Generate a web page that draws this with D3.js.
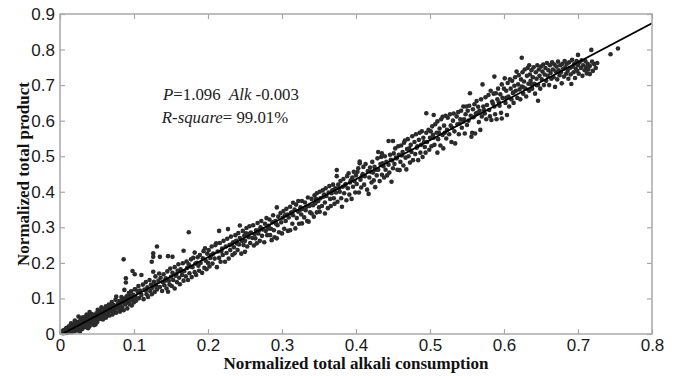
<!DOCTYPE html>
<html><head><meta charset="utf-8">
<script src="https://cdn.jsdelivr.net/npm/d3@7"></script>
<style>body{margin:0;background:#fff}svg{display:block}</style>
</head><body><svg id="c" width="676" height="376"></svg>
<script>
const xTicks = [0,0.1,0.2,0.3,0.4,0.5,0.6,0.7,0.8];
const yTicks = [0,0.1,0.2,0.3,0.4,0.5,0.6,0.7,0.8,0.9];
const fitSlope = 1.096, fitIntercept = -0.003;
const fitLine = [[0, fitSlope*0+fitIntercept],[0.8, fitSlope*0.8+fitIntercept]];
const xLabel = "Normalized total alkali consumption";
const yLabel = "Normalized total product";
const points = [
[0.002,0.004],[0.003,0.008],[0.004,0.002],[0.005,0.010],[0.005,0.006],[0.006,0.003],[0.007,0.012],[0.007,0.007],[0.008,0.004],[0.008,0.015],[0.009,0.009],[0.010,0.006],[0.010,0.013],[0.011,0.018],[0.011,0.010],[0.012,0.005],[0.012,0.014],[0.013,0.020],[0.013,0.009],[0.014,0.012],[0.014,0.016],[0.015,0.008],[0.015,0.022],[0.016,0.014],[0.016,0.018],[0.017,0.011],[0.017,0.024],[0.018,0.016],[0.018,0.020],[0.019,0.012],[0.019,0.026],[0.020,0.018],[0.020,0.014],[0.021,0.022],[0.021,0.030],[0.022,0.017],[0.022,0.013],[0.023,0.025],[0.023,0.020],[0.024,0.016],[0.024,0.029],[0.025,0.022],[0.025,0.034],[0.026,0.019],[0.026,0.026],[0.027,0.015],[0.027,0.031],[0.028,0.024],[0.028,0.020],[0.029,0.027],[0.029,0.036],[0.030,0.021],[0.030,0.030],[0.031,0.018],[0.031,0.026],[0.032,0.033],[0.032,0.023],[0.033,0.029],[0.033,0.040],[0.034,0.021],[0.034,0.034],[0.035,0.027],[0.035,0.031],[0.036,0.024],[0.036,0.038],[0.037,0.030],[0.037,0.045],[0.038,0.026],[0.038,0.035],[0.039,0.032],[0.039,0.041],[0.040,0.028],[0.040,0.037],[0.041,0.034],[0.041,0.048],[0.042,0.030],[0.042,0.040],[0.043,0.036],[0.043,0.044],[0.044,0.032],[0.044,0.050],[0.045,0.039],[0.045,0.043],[0.046,0.035],[0.046,0.047],[0.047,0.041],[0.047,0.038],[0.048,0.052],[0.048,0.044],[0.049,0.036],[0.049,0.047],[0.050,0.042],[0.050,0.055],
[0.030,0.046],[0.025,0.049],[0.040,0.062],[0.036,0.055],[0.020,0.038],[0.015,0.030],[0.020,0.008],[0.030,0.014],[0.040,0.022],[0.045,0.030],[0.050,0.033],[0.035,0.019],[0.012,0.022],[0.018,0.028],[0.028,0.040],[0.033,0.048],[0.043,0.056],[0.009,0.017],[0.016,0.005],[0.024,0.010],[0.038,0.016],[0.046,0.025],[0.032,0.041],[0.022,0.033],[0.027,0.007],[0.042,0.053],[0.048,0.027],
[0.004,0.009],[0.006,0.011],[0.009,0.003],[0.011,0.014],[0.013,0.015],[0.015,0.012],[0.017,0.019],[0.019,0.017],[0.021,0.015],[0.023,0.030],[0.024,0.023],[0.026,0.031],[0.028,0.032],[0.029,0.018],[0.031,0.037],[0.032,0.028],[0.034,0.042],[0.036,0.031],[0.037,0.026],[0.039,0.050],[0.041,0.040],[0.042,0.046],[0.044,0.041],[0.046,0.052],[0.047,0.031],[0.049,0.058],[0.051,0.046],[0.053,0.065],[0.055,0.043],[0.058,0.058],[0.060,0.070],[0.064,0.052],[0.067,0.076],[0.069,0.068],[0.072,0.082],[0.075,0.062],[0.079,0.086],[0.082,0.070],[0.085,0.100],[0.090,0.088],[0.094,0.108],[0.097,0.100],
[0.051,0.068],[0.052,0.041],[0.054,0.060],[0.054,0.049],[0.056,0.075],[0.057,0.052],[0.058,0.041],[0.059,0.066],[0.061,0.057],[0.062,0.078],[0.062,0.046],[0.064,0.069],[0.065,0.060],[0.066,0.083],[0.067,0.052],[0.068,0.071],[0.070,0.064],[0.070,0.090],[0.071,0.055],[0.073,0.079],[0.074,0.068],[0.075,0.096],[0.076,0.060],[0.076,0.105],[0.078,0.084],[0.079,0.072],[0.080,0.093],[0.081,0.063],[0.082,0.085],[0.083,0.104],[0.084,0.075],[0.085,0.090],[0.086,0.210],[0.086,0.067],[0.087,0.124],[0.087,0.098],[0.088,0.083],[0.089,0.157],[0.089,0.145],[0.090,0.106],[0.091,0.072],[0.092,0.094],[0.093,0.115],[0.094,0.084],[0.095,0.103],[0.096,0.120],[0.097,0.080],[0.098,0.177],[0.098,0.098],[0.099,0.110],[0.100,0.089],[0.101,0.168],[0.101,0.126],[0.102,0.104],
[0.053,0.055],[0.057,0.063],[0.060,0.050],[0.063,0.065],[0.066,0.070],[0.069,0.078],[0.072,0.068],[0.077,0.079],[0.080,0.082],[0.084,0.092],[0.088,0.095],[0.092,0.102],[0.096,0.095],
[0.102,0.126],[0.103,0.094],[0.105,0.118],[0.106,0.135],[0.107,0.101],[0.108,0.122],[0.110,0.166],[0.110,0.110],[0.112,0.139],[0.113,0.098],[0.114,0.125],[0.116,0.146],[0.117,0.112],[0.118,0.131],[0.119,0.104],[0.121,0.152],[0.122,0.121],[0.123,0.139],[0.124,0.203],[0.124,0.112],[0.125,0.130],[0.126,0.227],[0.126,0.217],[0.126,0.175],[0.127,0.147],[0.128,0.118],[0.129,0.162],[0.130,0.136],[0.131,0.246],[0.131,0.125],[0.133,0.150],[0.134,0.170],[0.135,0.217],[0.135,0.132],[0.136,0.158],[0.138,0.121],[0.139,0.146],[0.140,0.168],[0.141,0.137],[0.143,0.157],[0.144,0.128],[0.145,0.176],[0.146,0.219],[0.146,0.119],[0.147,0.150],[0.148,0.139],[0.149,0.184],[0.150,0.161],
[0.151,0.135],[0.152,0.217],[0.152,0.172],[0.153,0.152],[0.155,0.128],[0.155,0.188],[0.156,0.164],[0.158,0.146],[0.159,0.178],[0.160,0.196],[0.161,0.158],[0.162,0.140],[0.163,0.182],[0.165,0.166],[0.166,0.199],[0.167,0.234],[0.167,0.150],[0.168,0.177],[0.170,0.162],[0.171,0.204],[0.172,0.186],[0.173,0.152],[0.174,0.286],[0.174,0.196],[0.175,0.171],[0.177,0.210],[0.178,0.160],[0.179,0.188],[0.180,0.214],[0.182,0.229],[0.182,0.174],[0.183,0.198],[0.184,0.166],[0.186,0.216],[0.187,0.192],[0.188,0.178],[0.189,0.222],[0.190,0.200],[0.192,0.172],[0.193,0.213],[0.194,0.233],[0.195,0.186],[0.196,0.241],[0.197,0.206],[0.198,0.182],[0.199,0.226],[0.200,0.200],
[0.201,0.236],[0.202,0.190],[0.204,0.221],[0.205,0.246],[0.206,0.198],[0.207,0.226],[0.209,0.212],[0.210,0.250],[0.211,0.255],[0.212,0.188],[0.213,0.232],[0.215,0.290],[0.215,0.214],[0.216,0.256],[0.217,0.203],[0.219,0.240],[0.220,0.222],[0.221,0.262],[0.223,0.203],[0.224,0.246],[0.225,0.228],[0.226,0.268],[0.227,0.295],[0.228,0.212],[0.229,0.250],[0.230,0.236],[0.231,0.274],[0.233,0.222],[0.234,0.258],[0.235,0.244],[0.236,0.227],[0.237,0.278],[0.238,0.262],[0.240,0.236],[0.241,0.284],[0.242,0.252],[0.243,0.305],[0.243,0.270],[0.245,0.226],[0.246,0.262],[0.247,0.290],[0.248,0.250],[0.249,0.276],[0.250,0.231],[0.250,0.262],
[0.251,0.283],[0.252,0.298],[0.253,0.246],[0.255,0.272],[0.256,0.303],[0.257,0.256],[0.258,0.285],[0.260,0.270],[0.261,0.306],[0.262,0.249],[0.264,0.269],[0.265,0.292],[0.266,0.255],[0.267,0.312],[0.268,0.283],[0.270,0.262],[0.271,0.300],[0.272,0.318],[0.273,0.276],[0.274,0.294],[0.276,0.258],[0.277,0.310],[0.278,0.290],[0.279,0.326],[0.280,0.278],[0.282,0.304],[0.283,0.322],[0.284,0.278],[0.285,0.296],[0.286,0.264],[0.287,0.314],[0.288,0.334],[0.289,0.292],[0.290,0.272],[0.291,0.318],[0.293,0.356],[0.293,0.269],[0.294,0.306],[0.295,0.330],[0.296,0.286],[0.298,0.340],[0.299,0.314],[0.300,0.283],
[0.301,0.327],[0.302,0.346],[0.303,0.296],[0.305,0.318],[0.306,0.352],[0.307,0.336],[0.308,0.290],[0.309,0.328],[0.311,0.292],[0.311,0.358],[0.312,0.340],[0.314,0.310],[0.315,0.369],[0.315,0.334],[0.317,0.350],[0.318,0.297],[0.319,0.364],[0.320,0.326],[0.322,0.374],[0.322,0.344],[0.323,0.310],[0.325,0.356],[0.326,0.336],[0.327,0.374],[0.327,0.311],[0.328,0.352],[0.330,0.328],[0.331,0.370],[0.332,0.348],[0.334,0.318],[0.335,0.384],[0.336,0.316],[0.337,0.360],[0.338,0.342],[0.340,0.339],[0.340,0.380],[0.342,0.362],[0.343,0.330],[0.344,0.390],[0.345,0.368],[0.347,0.396],[0.347,0.342],[0.349,0.374],[0.350,0.356],
[0.351,0.344],[0.351,0.400],[0.352,0.382],[0.354,0.360],[0.355,0.404],[0.356,0.386],[0.358,0.339],[0.358,0.370],[0.359,0.410],[0.360,0.388],[0.362,0.354],[0.363,0.398],[0.364,0.416],[0.365,0.380],[0.366,0.360],[0.368,0.404],[0.369,0.420],[0.370,0.382],[0.371,0.366],[0.372,0.410],[0.373,0.398],[0.374,0.461],[0.374,0.444],[0.375,0.372],[0.376,0.420],[0.378,0.400],[0.379,0.430],[0.380,0.382],[0.381,0.358],[0.382,0.414],[0.383,0.436],[0.384,0.396],[0.386,0.422],[0.387,0.376],[0.388,0.444],[0.389,0.410],[0.390,0.452],[0.391,0.392],[0.392,0.426],[0.394,0.380],[0.395,0.440],[0.396,0.414],[0.397,0.456],[0.398,0.430],[0.399,0.398],[0.400,0.446],
[0.401,0.422],[0.402,0.456],[0.403,0.466],[0.404,0.398],[0.405,0.480],[0.405,0.485],[0.406,0.434],[0.407,0.412],[0.409,0.450],[0.410,0.470],[0.411,0.420],[0.412,0.444],[0.413,0.478],[0.415,0.406],[0.416,0.458],[0.417,0.394],[0.418,0.440],[0.419,0.468],[0.421,0.426],[0.422,0.484],[0.423,0.454],[0.424,0.432],[0.425,0.470],[0.426,0.413],[0.428,0.446],[0.429,0.494],[0.430,0.512],[0.430,0.462],[0.432,0.430],[0.433,0.478],[0.434,0.498],[0.435,0.508],[0.435,0.448],[0.437,0.472],[0.438,0.440],[0.439,0.500],[0.440,0.462],[0.441,0.484],[0.442,0.446],[0.444,0.543],[0.444,0.476],[0.445,0.454],[0.446,0.504],[0.448,0.428],[0.449,0.488],[0.450,0.543],[0.450,0.466],
[0.451,0.508],[0.452,0.478],[0.453,0.522],[0.455,0.494],[0.456,0.462],[0.457,0.528],[0.458,0.504],[0.459,0.461],[0.460,0.484],[0.461,0.530],[0.463,0.512],[0.464,0.474],[0.465,0.538],[0.466,0.544],[0.467,0.496],[0.468,0.463],[0.469,0.520],[0.470,0.548],[0.471,0.500],[0.473,0.482],[0.474,0.532],[0.475,0.512],[0.476,0.556],[0.477,0.489],[0.479,0.540],[0.480,0.506],[0.481,0.562],[0.482,0.524],[0.484,0.489],[0.485,0.546],[0.486,0.566],[0.487,0.510],[0.488,0.532],[0.489,0.570],[0.490,0.498],[0.491,0.552],[0.493,0.526],[0.494,0.510],[0.495,0.621],[0.495,0.566],[0.496,0.540],[0.498,0.574],[0.499,0.518],[0.500,0.552],
[0.501,0.570],[0.502,0.528],[0.503,0.584],[0.505,0.616],[0.505,0.552],[0.506,0.532],[0.507,0.590],[0.509,0.566],[0.510,0.510],[0.510,0.598],[0.511,0.548],[0.513,0.578],[0.514,0.530],[0.515,0.604],[0.517,0.611],[0.517,0.560],[0.518,0.522],[0.519,0.586],[0.521,0.614],[0.522,0.550],[0.523,0.574],[0.524,0.608],[0.526,0.562],[0.527,0.618],[0.528,0.586],[0.529,0.540],[0.531,0.600],[0.532,0.620],[0.533,0.570],[0.534,0.536],[0.536,0.612],[0.537,0.590],[0.538,0.624],[0.539,0.562],[0.541,0.604],[0.542,0.628],[0.543,0.580],[0.545,0.640],[0.545,0.598],[0.547,0.564],[0.548,0.618],[0.549,0.640],[0.550,0.588],
[0.551,0.628],[0.552,0.600],[0.553,0.642],[0.554,0.677],[0.555,0.614],[0.556,0.555],[0.557,0.566],[0.558,0.632],[0.559,0.610],[0.560,0.646],[0.561,0.564],[0.562,0.620],[0.563,0.655],[0.565,0.639],[0.566,0.596],[0.567,0.628],[0.568,0.574],[0.569,0.660],[0.570,0.612],[0.571,0.702],[0.572,0.640],[0.574,0.620],[0.575,0.666],[0.576,0.604],[0.577,0.644],[0.579,0.672],[0.580,0.630],[0.581,0.612],[0.582,0.684],[0.583,0.602],[0.584,0.654],[0.586,0.676],[0.587,0.724],[0.587,0.640],[0.588,0.618],[0.589,0.677],[0.590,0.604],[0.591,0.660],[0.592,0.690],[0.594,0.642],[0.595,0.674],[0.596,0.622],[0.597,0.702],[0.597,0.606],[0.598,0.664],[0.600,0.690],
[0.601,0.719],[0.602,0.650],[0.603,0.684],[0.604,0.616],[0.605,0.706],[0.606,0.668],[0.607,0.640],[0.608,0.716],[0.609,0.690],[0.610,0.660],[0.611,0.712],[0.612,0.678],[0.613,0.650],[0.614,0.698],[0.615,0.722],[0.616,0.684],[0.617,0.738],[0.618,0.664],[0.619,0.702],[0.620,0.728],[0.621,0.688],[0.622,0.660],[0.623,0.716],[0.624,0.777],[0.624,0.696],[0.625,0.736],[0.626,0.676],[0.627,0.710],[0.628,0.744],[0.629,0.690],[0.630,0.668],[0.631,0.726],[0.632,0.748],[0.633,0.704],[0.634,0.756],[0.634,0.684],[0.635,0.730],[0.636,0.712],[0.637,0.742],[0.638,0.690],[0.639,0.722],[0.640,0.750],[0.641,0.704],[0.642,0.676],[0.643,0.736],[0.644,0.718],[0.645,0.756],[0.646,0.656],[0.646,0.700],[0.647,0.744],[0.648,0.726],[0.649,0.690],[0.650,0.752],
[0.651,0.716],[0.652,0.738],[0.653,0.758],[0.654,0.700],[0.655,0.730],[0.656,0.748],[0.657,0.712],[0.658,0.762],[0.659,0.726],[0.660,0.742],[0.661,0.700],[0.662,0.756],[0.663,0.734],[0.664,0.718],[0.665,0.764],[0.666,0.744],[0.667,0.722],[0.668,0.758],[0.669,0.695],[0.670,0.738],[0.671,0.752],[0.672,0.716],[0.673,0.766],[0.674,0.742],[0.675,0.728],[0.676,0.756],[0.677,0.736],[0.678,0.705],[0.679,0.760],[0.680,0.746],[0.681,0.724],[0.682,0.768],[0.683,0.750],[0.684,0.732],[0.685,0.760],[0.686,0.740],[0.687,0.718],[0.688,0.764],[0.689,0.748],[0.690,0.730],[0.691,0.703],[0.692,0.771],[0.693,0.752],[0.694,0.736],[0.695,0.760],[0.696,0.720],[0.697,0.746],[0.698,0.768],[0.699,0.740],[0.700,0.785],[0.700,0.756],
[0.701,0.732],[0.702,0.764],[0.704,0.748],[0.705,0.770],[0.706,0.726],[0.707,0.756],[0.709,0.742],[0.710,0.768],[0.711,0.750],[0.712,0.733],[0.713,0.760],[0.714,0.744],[0.716,0.731],[0.716,0.754],[0.718,0.799],[0.719,0.766],[0.720,0.740],[0.722,0.759],[0.724,0.748],[0.726,0.762],[0.744,0.787],[0.754,0.803],
[0.116,0.122],[0.129,0.140],[0.142,0.150],[0.157,0.168],[0.164,0.176],[0.176,0.190],[0.185,0.200],[0.203,0.214],[0.218,0.232],[0.232,0.252],[0.239,0.255],[0.254,0.282],[0.263,0.281],[0.269,0.292],[0.281,0.296],[0.292,0.310],[0.304,0.334],[0.313,0.342],[0.324,0.348],[0.333,0.358],[0.346,0.380],[0.357,0.392],[0.367,0.396],[0.377,0.410],[0.385,0.418],[0.393,0.432],[0.408,0.444],[0.420,0.456],[0.427,0.462],[0.436,0.480],[0.447,0.490],[0.454,0.496],[0.462,0.502],[0.472,0.522],[0.483,0.528],[0.492,0.540],[0.504,0.560],[0.512,0.566],[0.520,0.566],[0.530,0.580],[0.540,0.592],[0.546,0.604],[0.557,0.610],[0.564,0.622],[0.573,0.630],[0.585,0.648],[0.593,0.652],[0.603,0.664],[0.613,0.680],[0.626,0.694],[0.637,0.702],[0.644,0.700]
];

const svg = d3.select("#c");
const m = {l:60, r:24, t:14, b:42};
const W = 676, H = 376;
const x = d3.scaleLinear().domain([0,0.8]).range([m.l, W-m.r]);
const y = d3.scaleLinear().domain([0,0.9]).range([H-m.b, m.t]);
const axisColor = "#a8a8a8";
const fmt = d => d===0 ? "0" : d3.format(".1f")(d);

svg.append("defs").append("clipPath").attr("id","clip")
  .append("rect").attr("x",m.l).attr("y",m.t).attr("width",W-m.l-m.r).attr("height",H-m.t-m.b);

svg.append("g").attr("fill","#2b2b2b")
  .selectAll("circle").data(points).join("circle")
  .attr("cx",d=>x(d[0])).attr("cy",d=>y(d[1])).attr("r",2.3);

svg.append("path").datum(fitLine).attr("clip-path","url(#clip)")
  .attr("d", d3.line().x(d=>x(d[0])).y(d=>y(d[1])))
  .attr("stroke","#000").attr("stroke-width",1.8).attr("fill","none");

function styleAxis(g){
  g.select(".domain").remove();
  g.selectAll(".tick line").attr("stroke",axisColor).attr("stroke-width",1.2);
  g.selectAll(".tick text").attr("fill","#1a1a1a")
    .style("font-family","'Liberation Sans', Arial, sans-serif").style("font-size","17px");
}
svg.append("g").attr("transform",`translate(0,${y(0)})`)
  .call(d3.axisBottom(x).tickValues(xTicks).tickFormat(fmt).tickSize(-5).tickPadding(5)).call(styleAxis);
svg.append("g").attr("transform",`translate(0,${y(0.9)})`)
  .call(d3.axisTop(x).tickValues(xTicks).tickFormat("").tickSize(-5)).call(styleAxis);
svg.append("g").attr("transform",`translate(${x(0)},0)`)
  .call(d3.axisLeft(y).tickValues(yTicks).tickFormat(fmt).tickSize(-5).tickPadding(5)).call(styleAxis);
svg.append("g").attr("transform",`translate(${x(0.8)},0)`)
  .call(d3.axisRight(y).tickValues(yTicks).tickFormat("").tickSize(-5)).call(styleAxis);

svg.append("rect").attr("x",x(0)).attr("y",y(0.9)).attr("width",x(0.8)-x(0)).attr("height",y(0)-y(0.9))
  .attr("fill","none").attr("stroke",axisColor).attr("stroke-width",1.5);

svg.append("text").attr("x",(x(0)+x(0.8))/2).attr("y",369).attr("text-anchor","middle")
  .style("font-family","'Liberation Serif','Times New Roman',serif").style("font-weight","bold").style("font-size","17px")
  .attr("fill","#111").text(xLabel);
svg.append("text").attr("transform",`translate(29,${(y(0)+y(0.9))/2}) rotate(-90)`).attr("text-anchor","middle")
  .style("font-family","'Liberation Serif','Times New Roman',serif").style("font-weight","bold").style("font-size","17px")
  .attr("fill","#111").text(yLabel);

const ann = svg.append("g").style("font-family","'Liberation Serif','Times New Roman',serif").style("font-size","16.8px").attr("fill","#222");
const t1 = ann.append("text").attr("x",231).attr("y",100).attr("text-anchor","middle");
t1.append("tspan").style("font-style","italic").text("P");
t1.append("tspan").text("=" + fitSlope.toFixed(3) + "\u00a0\u00a0");
t1.append("tspan").style("font-style","italic").text("Alk");
t1.append("tspan").text(" " + fitIntercept.toFixed(3));
const t2 = ann.append("text").attr("x",225).attr("y",123).attr("text-anchor","middle");
t2.append("tspan").style("font-style","italic").text("R-square");
t2.append("tspan").text("= 99.01%");
</script></body></html>
